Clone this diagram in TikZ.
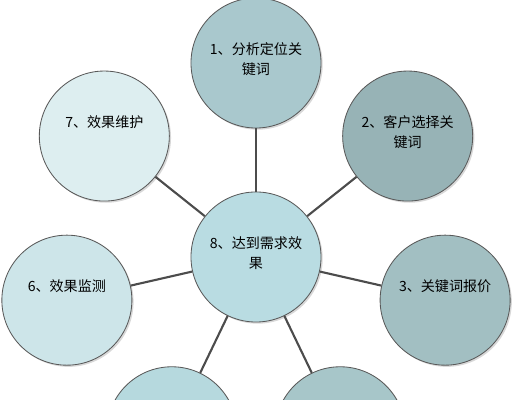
\documentclass[tikz,border=0pt]{standalone}
\usepackage{fontspec}
\setmainfont{Noto Sans CJK SC}
\usetikzlibrary{shadows}
\definecolor{teinteA}{HTML}{A9C8CD}
\definecolor{teinteB}{HTML}{97B3B6}
\definecolor{teinteC}{HTML}{A2BFC2}
\definecolor{teinteD}{HTML}{A7C6C9}
\definecolor{teinteE}{HTML}{B6D9DE}
\definecolor{teinteF}{HTML}{CDE5E9}
\definecolor{teinteG}{HTML}{DDEEF0}
\definecolor{teinteH}{HTML}{B9DCE2}
\begin{document}
\begin{tikzpicture}[x=0.025cm,y=0.025cm]
		\tikzstyle{bulle}=[circle,draw=black!65,line width=0.6pt,minimum size=3.25cm,drop shadow={shadow xshift=1.2pt,shadow yshift=-1.2pt,fill=black!30}]
		\tikzstyle{texte}=[anchor=north,inner sep=0pt,align=center,font=\fontsize{10}{14.2}\selectfont]
		\tikzstyle{lien}=[line width=1.5pt,draw=black!70]
		\def\Xc{256}
		\def\Yc{143}
		\def\Ecart{194}
		\useasboundingbox (0,0) rectangle (516,400);
		\node[bulle,fill=teinteH] (centre) at (\Xc,\Yc) {};
		\node[bulle,fill=teinteA] (analyse) at ({\Xc+\Ecart*cos(90)},{\Yc+\Ecart*sin(90)}) {};
		\node[bulle,fill=teinteB] (choix) at ({\Xc+\Ecart*cos(38.57)},{\Yc+\Ecart*sin(38.57)}) {};
		\node[bulle,fill=teinteC] (prix) at ({\Xc+\Ecart*cos(-12.86)},{\Yc+\Ecart*sin(-12.86)}) {};
		\node[bulle,fill=teinteD] (quatre) at ({\Xc+\Ecart*cos(-64.29)},{\Yc+\Ecart*sin(-64.29)}) {};
		\node[bulle,fill=teinteE] (cinq) at ({\Xc+\Ecart*cos(-115.71)},{\Yc+\Ecart*sin(-115.71)}) {};
		\node[bulle,fill=teinteF] (suivi) at ({\Xc+\Ecart*cos(-167.14)},{\Yc+\Ecart*sin(-167.14)}) {};
		\node[bulle,fill=teinteG] (entretien) at ({\Xc+\Ecart*cos(141.43)},{\Yc+\Ecart*sin(141.43)}) {};
		\draw[lien] (centre)--(analyse);
		\draw[lien] (centre)--(choix);
		\draw[lien] (centre)--(prix);
		\draw[lien] (centre)--(quatre);
		\draw[lien] (centre)--(cinq);
		\draw[lien] (centre)--(suivi);
		\draw[lien] (centre)--(entretien);
		\node[texte] (t-centre) at ([yshift=0.525cm]centre.center) {8、达到需求效\\果};
		\node[texte] (t-analyse) at ([yshift=0.525cm]analyse.center) {1、分析定位关\\键词};
		\node[texte] (t-choix) at ([yshift=0.525cm]choix.center) {2、客户选择关\\键词};
		\node[texte] (t-prix) at ([yshift=0.525cm]prix.center) {3、关键词报价};
		\node[texte] (t-suivi) at ([yshift=0.525cm]suivi.center) {6、效果监测};
		\node[texte] (t-entretien) at ([yshift=0.525cm]entretien.center) {7、效果维护};
	\end{tikzpicture}
\end{document}
